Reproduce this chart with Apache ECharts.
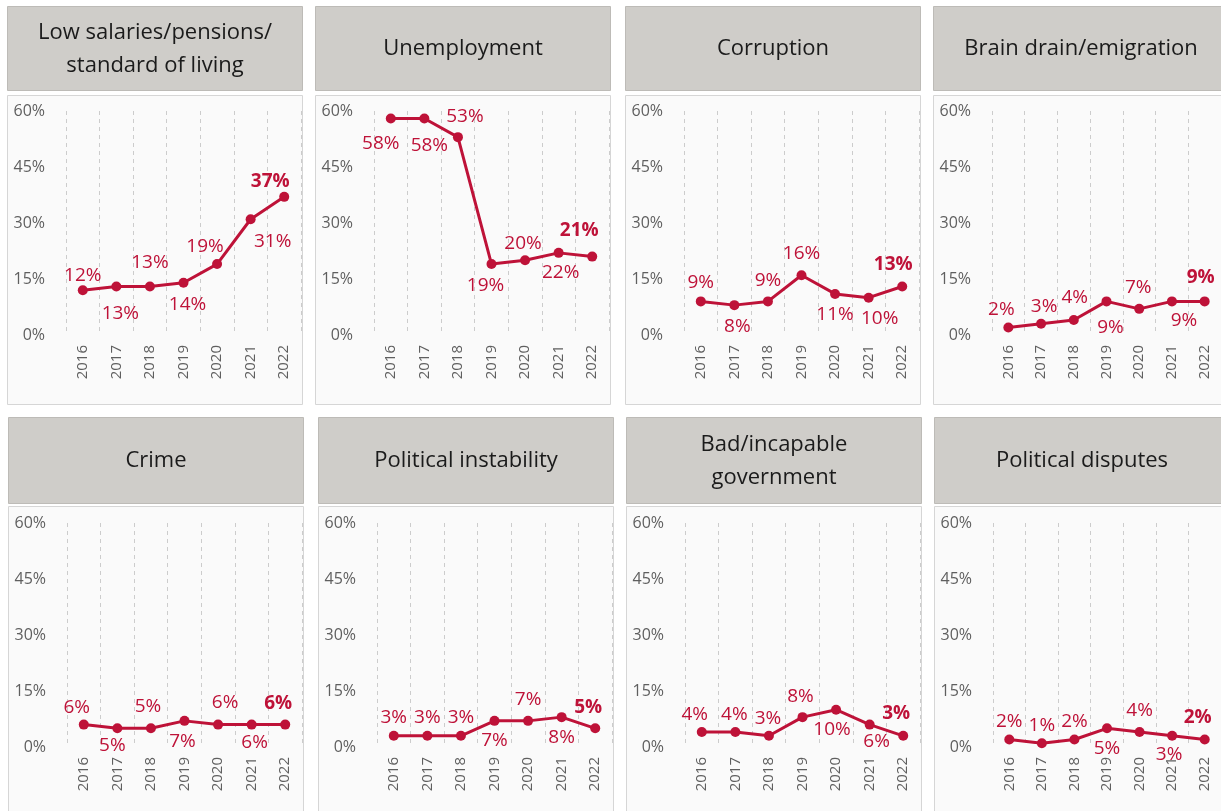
<!DOCTYPE html>
<html>
<head>
<meta charset="utf-8">
<script src="https://cdn.jsdelivr.net/npm/echarts@6/dist/echarts.min.js"></script>
<style>
  html, body { margin: 0; padding: 0; background: #ffffff; overflow: hidden; }
  #main { width: 1221px; height: 811px; }
</style>
</head>
<body>
<div id="main"></div>
<script>
// Survey years and y-axis ticks
const years = ['2016', '2017', '2018', '2019', '2020', '2021', '2022'];
const yTicks = [0, 15, 30, 45, 60];

// Panel titles
const titles = [
  'Low salaries/pensions/\nstandard of living',
  'Unemployment',
  'Corruption',
  'Brain drain/emigration',
  'Crime',
  'Political instability',
  'Bad/incapable\ngovernment',
  'Political disputes'
];

// Share of respondents naming each problem (%)
const lowSalaries          = [12, 13, 13, 14, 19, 31, 37];
const unemployment         = [58, 58, 53, 19, 20, 22, 21];
const corruption           = [9, 8, 9, 16, 11, 10, 13];
const brainDrain           = [2, 3, 4, 9, 7, 9, 9];
const crime                = [6, 5, 5, 7, 6, 6, 6];
const politicalInstability = [3, 3, 3, 7, 7, 8, 5];
const badGovernment        = [4, 4, 3, 8, 10, 6, 3];
const politicalDisputes    = [2, 1, 2, 5, 4, 3, 2];

const panelValues = [lowSalaries, unemployment, corruption, brainDrain,
                     crime, politicalInstability, badGovernment, politicalDisputes];

// Value-label nudges (dx, dy from the point centre), one list per panel
const labelNudges = [
  [[0, -15], [4, 27], [0, -24], [4, 22], [-12, -17], [22, 22], [-14, -15]],
  [[-10, 25], [5, 27], [7, -21], [-6, 22], [-2, -17], [2, 20], [-13, -26]],
  [[0, -19], [3, 21], [0, -21], [0, -22], [0, 21], [11, 21], [-9, -22]],
  [[-7, -18], [3, -17], [1, -22], [4, 26], [-1, -21], [12, 19], [-4, -24]],
  [[-7, -17], [-5, 17], [-3, -22], [-2, 21], [7, -22], [3, 18], [-7, -21]],
  [[0, -18], [0, -18], [0, -18], [0, 20], [0, -21], [0, 20], [-7, -21]],
  [[-7, -17], [-1, -17], [-1, -17], [-2, -21], [-4, 20], [7, 17], [-7, -22]],
  [[0, -18], [0, -18], [0, -18], [0, 20], [0, -21], [-3, 19], [-7, -22]]
];

// Layout
const boxLeft = [[7, 315, 625, 933], [8, 318, 626, 934]];
const headerTop = [6, 417];
const headerH = [84, 86];
const boxTop = [95, 506];
const boxW = 296;
const boxH = 309;
const plotTop = [111, 523];
const plotH = 224;
const plotOffset = 59;
const plotW = 235;

const RED = '#BE1238';
const AXIS_GREY = '#5f5f5f';
const FONT = '"Open Sans", Lato, sans-serif';

const grids = [], xAxes = [], yAxes = [], series = [], graphics = [];

panelValues.forEach((vals, p) => {
  const row = Math.floor(p / 4), col = p % 4;
  const bx = boxLeft[row][col];

  // header block
  graphics.push({
    type: 'rect', z: -10,
    shape: { x: bx + 0.5, y: headerTop[row] + 0.5, width: boxW - 1, height: headerH[row] },
    style: { fill: '#CFCDC9', stroke: '#BDBBB7', lineWidth: 1 }
  });
  graphics.push({
    type: 'text', z: 5,
    x: bx + boxW / 2, y: headerTop[row] + headerH[row] / 2 + 1,
    style: {
      text: titles[p], align: 'center', verticalAlign: 'middle',
      font: '22px ' + FONT, fill: '#1b1b1b', lineHeight: 33
    }
  });
  // chart frame
  graphics.push({
    type: 'rect', z: -10,
    shape: { x: bx + 0.5, y: boxTop[row] + 0.5, width: boxW - 1, height: boxH },
    style: { fill: '#FAFAFA', stroke: '#D6D6D6', lineWidth: 1 }
  });

  grids.push({ left: bx + plotOffset, top: plotTop[row], width: plotW, height: plotH });

  xAxes.push({
    gridIndex: p, type: 'category', data: years, boundaryGap: true,
    axisLine: { show: false }, axisTick: { show: false },
    splitLine: { show: true, lineStyle: { type: [4, 4], color: '#CCCCCC', width: 1 } },
    axisLabel: { rotate: 90, margin: 10, fontSize: 15, color: AXIS_GREY, fontFamily: FONT }
  });

  yAxes.push({
    gridIndex: p, type: 'value', min: yTicks[0], max: yTicks[yTicks.length - 1],
    interval: yTicks[1] - yTicks[0],
    axisLine: { show: false }, axisTick: { show: false }, splitLine: { show: false },
    axisLabel: { formatter: '{value}%', margin: 21, fontSize: 16, color: AXIS_GREY, fontFamily: FONT }
  });

  series.push({
    type: 'line', xAxisIndex: p, yAxisIndex: p,
    symbol: 'circle', symbolSize: 10,
    lineStyle: { color: RED, width: 3 },
    itemStyle: { color: RED },
    label: {
      show: true, position: 'inside', formatter: '{c}%',
      fontSize: 19, color: RED, fontFamily: FONT
    },
    emphasis: { disabled: true },
    data: vals.map((v, i) => ({
      value: v,
      label: { offset: labelNudges[p][i], fontWeight: i === vals.length - 1 ? 'bold' : 'normal' }
    }))
  });
});

const chart = echarts.init(document.getElementById('main'), null, { renderer: 'canvas' });
chart.setOption({
  animation: false,
  backgroundColor: '#ffffff',
  grid: grids,
  xAxis: xAxes,
  yAxis: yAxes,
  series: series,
  graphic: graphics
});
</script>
</body>
</html>
